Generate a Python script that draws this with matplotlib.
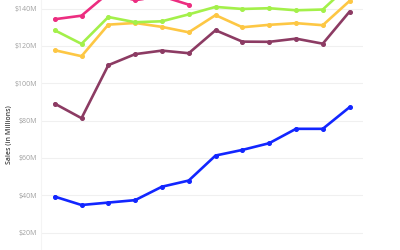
import matplotlib
matplotlib.use("Agg")
import matplotlib.pyplot as plt
import numpy as np

plt.rcParams['font.family'] = ['Open Sans', 'DejaVu Sans']

months = list(range(12))
pink = [134.3, 136.2, 148.3, 144.5, 146.6, 142.1, np.nan, np.nan, np.nan, np.nan, np.nan, np.nan]
green = [128.4, 121.1, 135.5, 132.7, 133.2, 136.9, 140.9, 139.8, 140.2, 139.1, 139.5, 152.8]
orange = [117.7, 114.5, 131.4, 132.3, 130.2, 127.3, 136.5, 130.0, 131.3, 132.2, 131.1, 144.1]
purple = [89.1, 81.3, 109.7, 115.6, 117.5, 116.1, 128.4, 122.3, 122.2, 123.9, 121.2, 138.4]
blue = [39.3, 34.8, 36.1, 37.4, 44.6, 47.9, 61.3, 64.3, 67.9, 75.6, 75.6, 87.2]
yticks = [20, 40, 60, 80, 100, 120, 140]
ytick_labels = ['$20M', '$40M', '$60M', '$80M', '$100M', '$120M', '$140M']

series = [
    (blue, '#1226ff'),
    (purple, '#8c3b63'),
    (orange, '#fdc744'),
    (green, '#a3f04a'),
    (pink, '#ec2d80'),
]

fig = plt.figure(figsize=(4, 2.5), dpi=100)
ax = fig.add_axes([41.3 / 400, 0, (363 - 41.3) / 400, 1])
for vals, col in series:
    ax.plot(months, vals, color=col, lw=1.9, marker='o', ms=2.6,
            solid_capstyle='round', solid_joinstyle='round', clip_on=True)

ax.set_xlim(-0.5, 11.5)
ax.set_ylim(10.7, 144.6)
ax.set_yticks(yticks)
ax.set_yticklabels(ytick_labels)
ax.set_xticks([])
ax.grid(axis='y', color='#f0f0f0', lw=0.8)
ax.set_axisbelow(True)
for s in ['top', 'right', 'bottom']:
    ax.spines[s].set_visible(False)
ax.spines['left'].set_color('#f4f4f4')
ax.spines['left'].set_linewidth(0.8)
ax.tick_params(axis='y', length=0, pad=3, labelsize=5, labelcolor='#a0a0a0')

fig.text(10 / 400, 1 - 135 / 250, 'Sales (in Millions)', rotation=90,
         ha='center', va='center', fontsize=5, color='#444444', fontweight='semibold')

fig.savefig('out.png', dpi=100)
